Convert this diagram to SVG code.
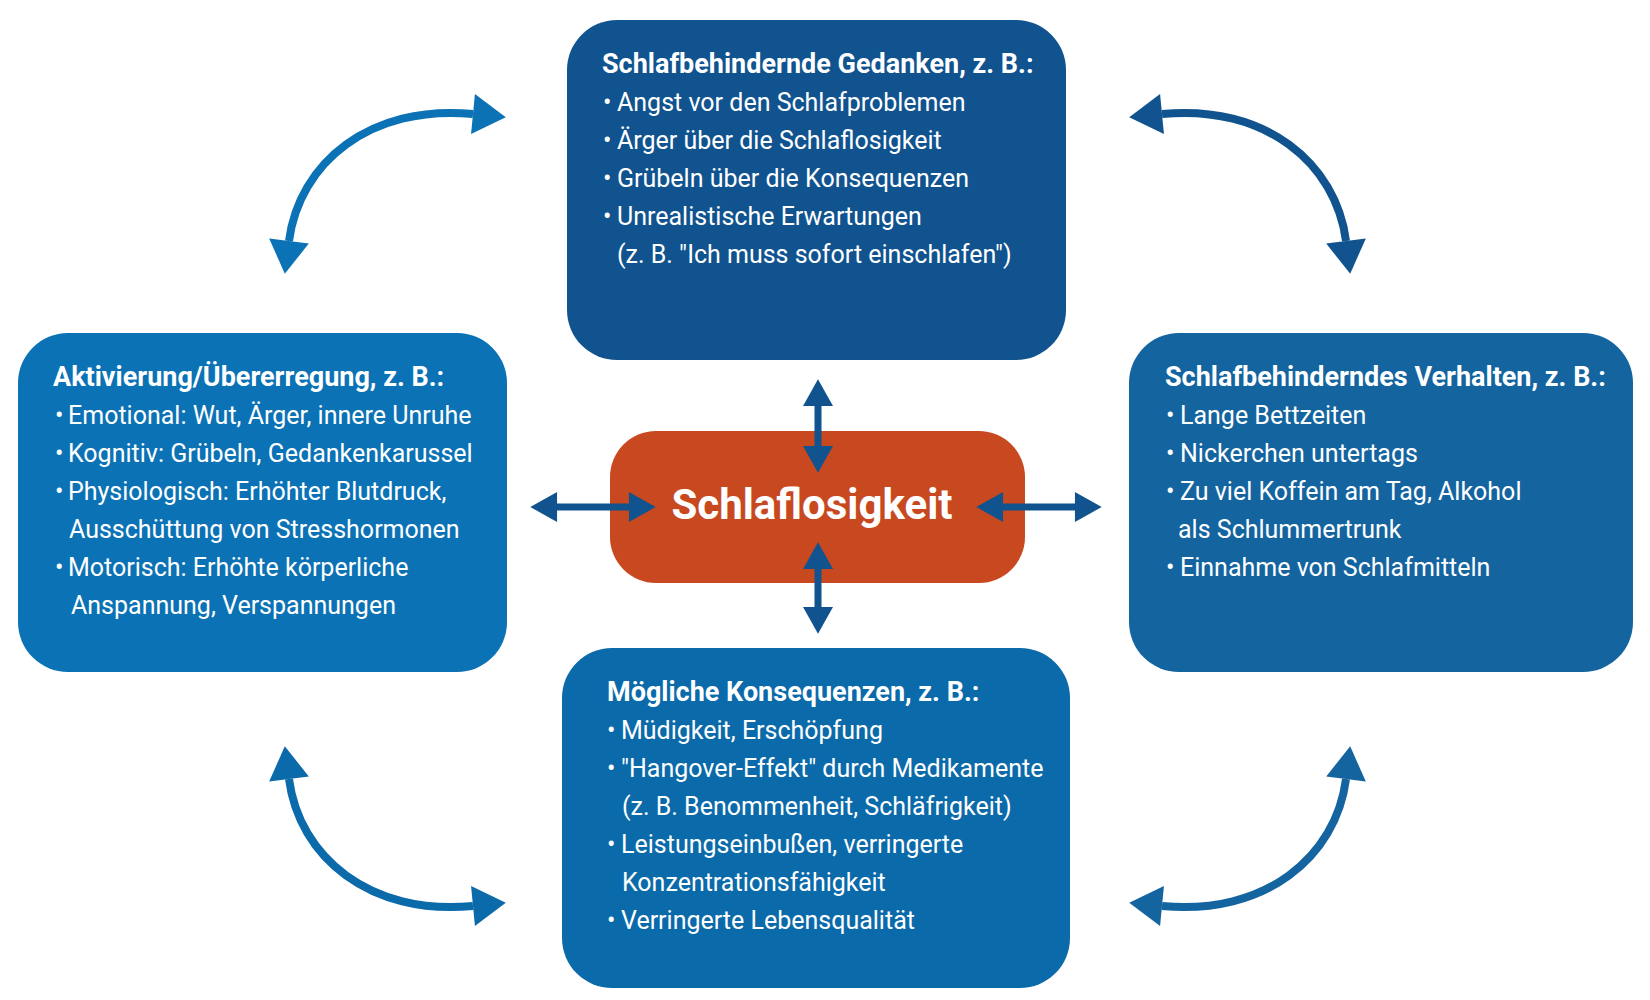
<svg xmlns="http://www.w3.org/2000/svg" width="1650" height="1000" viewBox="0 0 1650 1000">
<style>
text{font-family:Roboto,"Liberation Sans",Arial,sans-serif;fill:#ffffff}
.t{font-size:27px;font-weight:700}
.l{font-size:25px;font-weight:400}
.c{font-size:42px;font-weight:700}
.arc{fill:none;stroke-width:8}
.st{stroke:#10538f;stroke-width:7;fill:none}
</style>
<defs>
<marker id="mA" markerUnits="userSpaceOnUse" markerWidth="40" markerHeight="40" refX="0" refY="17" orient="auto-start-reverse" viewBox="0 0 32 34"><path d="M0,0 L28,17 L0,34 z" fill="#0b72b5"/></marker>
<marker id="mB" markerUnits="userSpaceOnUse" markerWidth="40" markerHeight="40" refX="0" refY="17" orient="auto-start-reverse" viewBox="0 0 32 34"><path d="M0,0 L28,17 L0,34 z" fill="#10538f"/></marker>
<marker id="mC" markerUnits="userSpaceOnUse" markerWidth="40" markerHeight="40" refX="0" refY="17" orient="auto-start-reverse" viewBox="0 0 32 34"><path d="M0,0 L28,17 L0,34 z" fill="#0b6aaa"/></marker>
<marker id="mD" markerUnits="userSpaceOnUse" markerWidth="40" markerHeight="40" refX="0" refY="17" orient="auto-start-reverse" viewBox="0 0 32 34"><path d="M0,0 L28,17 L0,34 z" fill="#1464a0"/></marker>
<marker id="mS" markerUnits="userSpaceOnUse" markerWidth="30" markerHeight="30" refX="1" refY="14" orient="auto-start-reverse" viewBox="0 0 26 28"><path d="M0,0 L25,14 L0,28 z" fill="#10538f"/></marker>
</defs>

<g id="node-gedanken">
<rect x="567" y="20" width="499" height="340" rx="50" fill="#10538f"/>
<text class="t" x="602" y="73">Schlafbehindernde Gedanken, z. B.:</text>
<text class="l" y="111"><tspan x="603">•</tspan><tspan x="617">Angst vor den Schlafproblemen</tspan></text>
<text class="l" y="149"><tspan x="603">•</tspan><tspan x="617">Ärger über die Schlaflosigkeit</tspan></text>
<text class="l" y="187"><tspan x="603">•</tspan><tspan x="617">Grübeln über die Konsequenzen</tspan></text>
<text class="l" y="225"><tspan x="603">•</tspan><tspan x="617">Unrealistische Erwartungen</tspan></text>
<text class="l" x="617" y="263">(z. B. "Ich muss sofort einschlafen")</text>
</g>

<g id="node-aktivierung">
<rect x="18" y="333" width="489" height="339" rx="50" fill="#0b72b5"/>
<text class="t" x="53" y="386">Aktivierung/Übererregung, z. B.:</text>
<text class="l" y="424"><tspan x="55">•</tspan><tspan x="68">Emotional: Wut, Ärger, innere Unruhe</tspan></text>
<text class="l" y="462"><tspan x="55">•</tspan><tspan x="68">Kognitiv: Grübeln, Gedankenkarussel</tspan></text>
<text class="l" y="500"><tspan x="55">•</tspan><tspan x="68">Physiologisch: Erhöhter Blutdruck,</tspan></text>
<text class="l" x="69" y="538">Ausschüttung von Stresshormonen</text>
<text class="l" y="576"><tspan x="55">•</tspan><tspan x="68">Motorisch: Erhöhte körperliche</tspan></text>
<text class="l" x="71" y="614">Anspannung, Verspannungen</text>
</g>

<g id="node-verhalten">
<rect x="1129" y="333" width="504" height="339" rx="50" fill="#1464a0"/>
<text class="t" x="1165" y="386">Schlafbehinderndes Verhalten, z. B.:</text>
<text class="l" y="424"><tspan x="1166">•</tspan><tspan x="1180">Lange Bettzeiten</tspan></text>
<text class="l" y="462"><tspan x="1166">•</tspan><tspan x="1180">Nickerchen untertags</tspan></text>
<text class="l" y="500"><tspan x="1166">•</tspan><tspan x="1180">Zu viel Koffein am Tag, Alkohol</tspan></text>
<text class="l" x="1178" y="538">als Schlummertrunk</text>
<text class="l" y="576"><tspan x="1166">•</tspan><tspan x="1180">Einnahme von Schlafmitteln</tspan></text>
</g>

<g id="node-konsequenzen">
<rect x="562" y="648" width="508" height="340" rx="50" fill="#0b6aaa"/>
<text class="t" x="607" y="701">Mögliche Konsequenzen, z. B.:</text>
<text class="l" y="739"><tspan x="607">•</tspan><tspan x="621">Müdigkeit, Erschöpfung</tspan></text>
<text class="l" y="777"><tspan x="607">•</tspan><tspan x="621">"Hangover-Effekt" durch Medikamente</tspan></text>
<text class="l" x="622" y="815">(z. B. Benommenheit, Schläfrigkeit)</text>
<text class="l" y="853"><tspan x="607">•</tspan><tspan x="621">Leistungseinbußen, verringerte</tspan></text>
<text class="l" x="622" y="891">Konzentrationsfähigkeit</text>
<text class="l" y="929"><tspan x="607">•</tspan><tspan x="621">Verringerte Lebensqualität</tspan></text>
</g>

<g id="node-schlaflosigkeit">
<rect x="610" y="431" width="415" height="152" rx="46" fill="#c8491f"/>
<text class="c" x="812" y="519" text-anchor="middle">Schlaflosigkeit</text>
</g>

<g id="connectors">
<path class="arc" stroke="#0b72b5" d="M289,241 C299,163 370,104 473,114" marker-start="url(#mA)" marker-end="url(#mA)"/>
<g transform="matrix(-1 0 0 1 1635 0)">
<path class="arc" stroke="#10538f" d="M289,241 C299,163 370,104 473,114" marker-start="url(#mB)" marker-end="url(#mB)"/>
</g>
<g transform="matrix(1 0 0 -1 0 1020)">
<path class="arc" stroke="#0b6aaa" d="M289,241 C299,163 370,104 473,114" marker-start="url(#mC)" marker-end="url(#mC)"/>
</g>
<g transform="matrix(-1 0 0 -1 1635 1020)">
<path class="arc" stroke="#1464a0" d="M289,241 C299,163 370,104 473,114" marker-start="url(#mD)" marker-end="url(#mD)"/>
</g>
<path class="st" d="M818,405 L818,447" marker-start="url(#mS)" marker-end="url(#mS)"/>
<path class="st" d="M818,568 L818,608" marker-start="url(#mS)" marker-end="url(#mS)"/>
<path class="st" d="M556,507 L630,507" marker-start="url(#mS)" marker-end="url(#mS)"/>
<path class="st" d="M1002,507 L1076,507" marker-start="url(#mS)" marker-end="url(#mS)"/>
</g>
</svg>
